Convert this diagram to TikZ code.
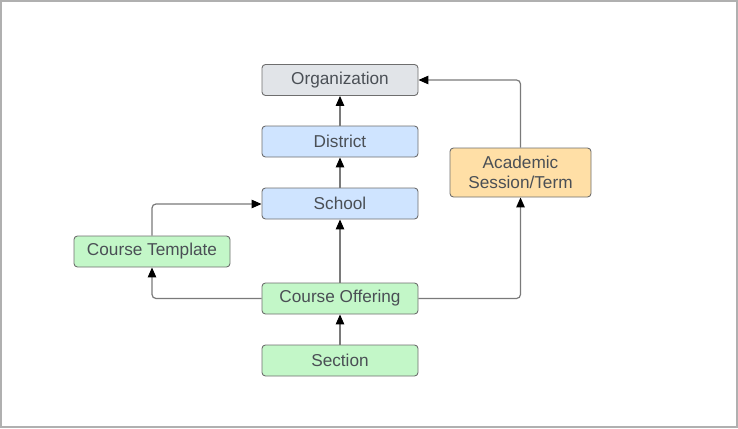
\documentclass[tikz,border=0pt]{standalone}
\usepackage{fontspec}
\setmainfont{Liberation Sans}
\usetikzlibrary{arrows.meta}
\definecolor{orgfill}{HTML}{E1E4E8}
\definecolor{bluefill}{HTML}{CFE4FF}
\definecolor{greenfill}{HTML}{C3F7C8}
\definecolor{orangefill}{HTML}{FFDFA6}
\definecolor{edgegray}{HTML}{6E6E6E}
\definecolor{txt}{HTML}{4A4F55}
\definecolor{linegray}{HTML}{7A7A7A}
\definecolor{framegray}{HTML}{B0B0B0}
\begin{document}
\begin{tikzpicture}[x=1pt,y=-1pt,
  box/.style={draw=edgegray, line width=0.9pt, rounded corners=3.5pt, minimum width=156pt, minimum height=31pt,
    inner sep=0pt, text=txt, font=\fontsize{17.2}{20.5}\selectfont, align=center},
  conn/.style={draw=linegray, line width=1.2pt, rounded corners=4pt, -{Triangle[length=10pt,width=8.5pt,color=black]}}
]
\useasboundingbox (0,0) rectangle (738,428);
\draw[framegray, line width=2pt] (1,1) rectangle (737,427);
\node[box, fill=orgfill] (org) at (340,80) {Organization};
\node[box, fill=bluefill] (dist) at (340,141.5) {District};
\node[box, fill=bluefill] (school) at (340,203.5) {School};
\node[box, fill=greenfill] (tmpl) at (152,251.5) {Course Template};
\node[box, fill=greenfill] (off) at (340,298.5) {Course Offering};
\node[box, fill=greenfill] (sec) at (340,360.5) {Section};
\node[box, fill=orangefill, minimum width=141pt, minimum height=49pt] (acad) at (520.5,172.5) {Academic\\Session/Term};
\coordinate (c1) at (152,204);
\coordinate (c2) at (152,298.5);
\coordinate (c3) at (520.5,298.5);
\coordinate (c4) at (520.5,80);
\draw[conn] (dist) -- (org);
\draw[conn] (school) -- (dist);
\draw[conn] (off) -- (school);
\draw[conn] (sec) -- (off);
\draw[conn] (tmpl.north) -- (c1) -- (school.west|-c1);
\draw[conn] (off.west) -- (c2) -- (tmpl.south);
\draw[conn] (off.east) -- (c3) -- (acad.south);
\draw[conn] (acad.north) -- (c4) -- (org.east);
\end{tikzpicture}
\end{document}
